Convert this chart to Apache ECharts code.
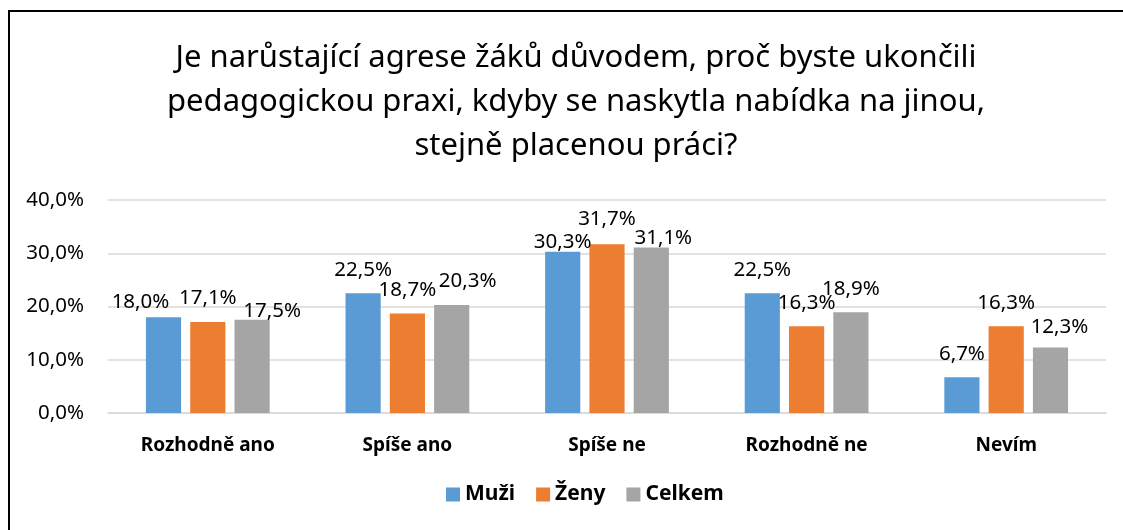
<!DOCTYPE html>
<html>
<head>
<meta charset="utf-8">
<script src="https://cdn.jsdelivr.net/npm/echarts@6/dist/echarts.min.js"></script>
<style>
  html, body { margin: 0; padding: 0; background: #fff; }
  #chart { width: 1123px; height: 530px; }
</style>
</head>
<body>
<div id="chart"></div>
<script>
const titleText = 'Je narůstající agrese žáků důvodem, proč byste ukončili\npedagogickou praxi, kdyby se naskytla nabídka na jinou,\nstejně placenou práci?'
const categories = ['Rozhodně ano', 'Spíše ano', 'Spíše ne', 'Rozhodně ne', 'Nevím']
const seriesNames = ['Muži', 'Ženy', 'Celkem']
const muzi = [18.0, 22.5, 30.3, 22.5, 6.7]
const zeny = [17.1, 18.7, 31.7, 16.3, 16.3]
const celkem = [17.5, 20.3, 31.1, 18.9, 12.3]
const yTicks = [0, 10, 20, 30, 40]

// Excel nudged some data labels to dodge each other: [dx, dy] per series/category
const labelNudge = [
  [[-23, 9], [0, 0], [0, 14], [0, 0], [0, 0]],
  [[0, 0], [0, 0], [0, -2], [0, 0], [0, 0]],
  [[20, 15], [16, 0], [12, 14], [0, 0], [9, 3]]
]

const colors = ['#5B9BD5', '#ED7D31', '#A5A5A5']
const font = "'Noto Sans', 'Open Sans', sans-serif"
const pct = (v) => v.toFixed(1).replace('.', ',') + '%'

const chart = echarts.init(document.getElementById('chart'))

const buildSeries = (name, values, idx) => ({
  name,
  type: 'bar',
  barGap: '26%',
  barCategoryGap: '38%',
  itemStyle: { color: colors[idx] },
  label: {
    show: true,
    position: 'top',
    distance: 13,
    color: '#000',
    fontFamily: font,
    fontSize: 20.5,
    formatter: (p) => pct(p.value)
  },
  labelLayout: (p) => ({
    dx: labelNudge[idx][p.dataIndex][0],
    dy: labelNudge[idx][p.dataIndex][1]
  }),
  data: values
})

chart.setOption({
  backgroundColor: '#fff',
  animation: false,
  color: colors,
  title: {
    text: titleText,
    left: 571,
    top: 31,
    textAlign: 'center',
    textStyle: {
      fontFamily: font,
      fontSize: 31,
      fontWeight: 'normal',
      color: '#000',
      lineHeight: 44
    }
  },
  graphic: [
    {
      type: 'rect',
      shape: { x: 9, y: 11, width: 1200, height: 600 },
      style: { fill: 'none', stroke: '#000', lineWidth: 2 },
      silent: true
    }
  ],
  legend: {
    bottom: 20,
    left: 441,
    itemWidth: 14,
    itemHeight: 14,
    itemGap: 21,
    icon: 'rect',
    textStyle: { fontFamily: font, fontSize: 21, fontWeight: 'bold', color: '#000' },
    data: seriesNames
  },
  grid: { left: 108, right: 17, top: 200, bottom: 117 },
  xAxis: {
    type: 'category',
    data: categories,
    axisTick: { show: false },
    axisLine: { lineStyle: { color: '#d9d9d9', width: 1.5 } },
    axisLabel: {
      margin: 23,
      fontFamily: font,
      fontSize: 19,
      fontWeight: 'bold',
      color: '#000'
    }
  },
  yAxis: {
    type: 'value',
    min: yTicks[0],
    max: yTicks[yTicks.length - 1],
    interval: yTicks[1] - yTicks[0],
    axisLine: { show: false },
    axisTick: { show: false },
    splitLine: { lineStyle: { color: '#d9d9d9', width: 1.5 } },
    axisLabel: {
      margin: 24,
      fontFamily: font,
      fontSize: 20.5,
      color: '#000',
      formatter: (v) => pct(v)
    }
  },
  series: [
    buildSeries(seriesNames[0], muzi, 0),
    buildSeries(seriesNames[1], zeny, 1),
    buildSeries(seriesNames[2], celkem, 2)
  ]
})
</script>
</body>
</html>
